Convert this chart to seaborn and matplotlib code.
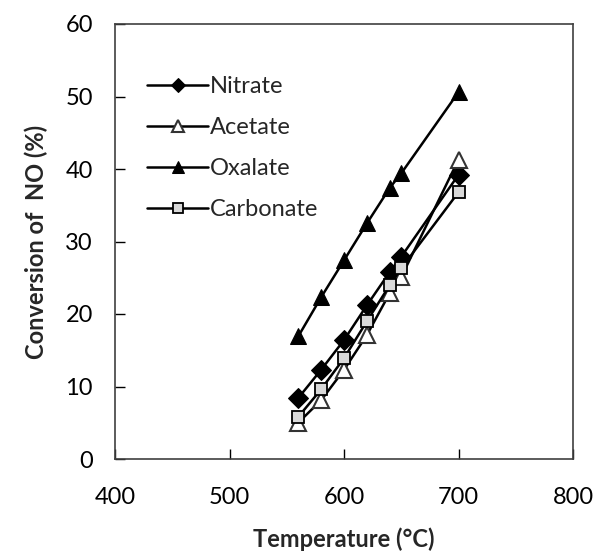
import matplotlib
matplotlib.use("Agg")
import matplotlib.pyplot as plt
import seaborn as sns
import pandas as pd

temperature = [560, 580, 600, 620, 640, 650, 700]
nitrate = [8.4, 12.3, 16.4, 21.2, 25.8, 27.9, 39.2]
acetate = [5.0, 8.1, 12.3, 17.1, 22.9, 25.1, 41.3]
oxalate = [16.9, 22.3, 27.4, 32.5, 37.4, 39.4, 50.6]
carbonate = [5.8, 9.6, 13.9, 19.0, 24.0, 26.3, 36.8]
series_names = ["Nitrate", "Acetate", "Oxalate", "Carbonate"]
x_ticks = [400, 500, 600, 700, 800]
y_ticks = [0, 10, 20, 30, 40, 50, 60]

sns.set_theme(style="white")
plt.rcParams['font.family'] = ['Lato', 'DejaVu Sans']

rows = []
for name, vals in zip(series_names, [nitrate, acetate, oxalate, carbonate]):
    for t, v in zip(temperature, vals):
        rows.append({"Temperature": t, "Conversion": v, "Series": name})
df = pd.DataFrame(rows)

styles = {
    "Nitrate": dict(marker="D", markersize=10, markerfacecolor="black", markeredgecolor="black", color="black"),
    "Acetate": dict(marker="^", markersize=12, markerfacecolor="white", markeredgecolor="#333333", color="black", markeredgewidth=1.5),
    "Oxalate": dict(marker="^", markersize=12, markerfacecolor="black", markeredgecolor="black", color="black"),
    "Carbonate": dict(marker="s", markersize=9, markerfacecolor="#d9d9d9", markeredgecolor="black", color="black", markeredgewidth=1.3),
}

fig = plt.figure(figsize=(6.02, 5.6), dpi=100)
ax = fig.add_axes([115/602, 1-459/560, (573-115)/602, (459-24)/560])

for name in series_names:
    sub = df[df["Series"] == name]
    sns.lineplot(data=sub, x="Temperature", y="Conversion", ax=ax, label=name,
                 linewidth=1.8, **styles[name])

ax.set_xlim(400, 800)
ax.set_ylim(0, 60)
ax.set_xticks(x_ticks)
ax.set_yticks(y_ticks)
ax.tick_params(axis="both", direction="in", length=7, width=1, labelsize=17,
               colors="black", left=True, bottom=True)
ax.tick_params(axis="x", pad=20)
ax.tick_params(axis="y", pad=16)
for s in ax.spines.values():
    s.set_color("#404040")
    s.set_linewidth(1.2)
ax.set_xlabel("Temperature (°C)", fontsize=17, fontweight="bold", labelpad=14)
ax.set_ylabel("Conversion of  NO (%)", fontsize=17, fontweight="bold", labelpad=12)

leg = ax.legend(loc="upper left", bbox_to_anchor=(0.07, 0.88), frameon=False,
                fontsize=17, handlelength=2.6, handletextpad=0.08,
                labelspacing=0.85, borderaxespad=0, borderpad=0,
                markerscale=0.75)

fig.savefig("out.png", dpi=100)
